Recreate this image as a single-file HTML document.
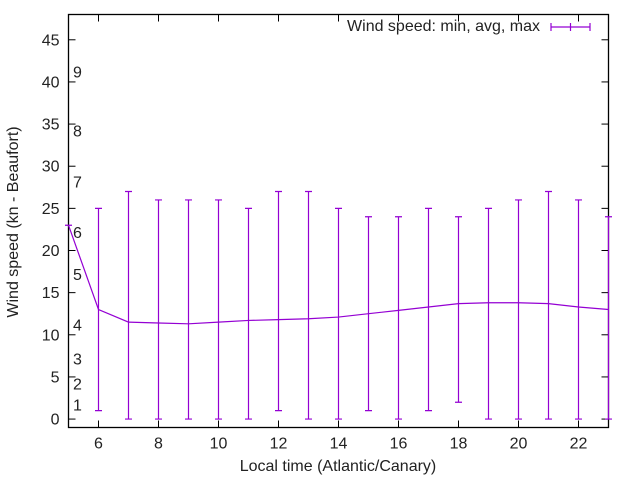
<!DOCTYPE html>
<html><head><meta charset="utf-8"><style>
body{margin:0;background:#fff}
svg{display:block;font-family:"Liberation Sans",sans-serif}
text{fill:#222}
</style></head><body>
<svg id="chart" width="640" height="480" viewBox="0 0 640 480" xmlns="http://www.w3.org/2000/svg">
<g id="grid"></g>
<rect x="68.5" y="14.5" width="540" height="413" fill="none" stroke="#000" stroke-width="1.3"/>
<text x="338" y="471" font-size="16" text-anchor="middle">Local time (Atlantic/Canary)</text>
<text x="0" y="0" font-size="16" text-anchor="middle" transform="translate(18,222) rotate(-90)">Wind speed (kn - Beaufort)</text>
<g>
<text x="540" y="31" font-size="16" text-anchor="end">Wind speed: min, avg, max</text>
<line x1="551" y1="27" x2="590" y2="27" stroke="#9400d3" stroke-width="1.2"/>
<line x1="551" y1="23" x2="551" y2="31" stroke="#9400d3" stroke-width="1.2"/>
<line x1="590" y1="23" x2="590" y2="31" stroke="#9400d3" stroke-width="1.2"/>
<line x1="570.5" y1="23" x2="570.5" y2="31" stroke="#9400d3" stroke-width="1.2"/>
</g>
<g id="marks"></g>
</svg>
<script>
const hours=[5,6,7,8,9,10,11,12,13,14,15,16,17,18,19,20,21,22,23];
const minVals=[23,1,0,0,0,0,0,1,0,0,1,0,1,2,0,0,0,0,0];
const avgVals=[23,13,11.5,11.4,11.3,11.5,11.7,11.8,11.9,12.1,12.5,12.9,13.3,13.7,13.8,13.8,13.7,13.3,13.0];
const maxVals=[23,25,27,26,26,26,25,27,27,25,24,24,25,24,25,26,27,26,24];
const yTicks=[0,5,10,15,20,25,30,35,40,45];
const xTicks=[6,8,10,12,14,16,18,20,22];
const beaufortLabels=["1","2","3","4","5","6","7","8","9"];
const beaufortBounds=[1,3.5,6.5,10.5,16.5,21.5,27.5,33.5,40.5];
const X0=5,X1=23,Y0=-1,Y1=48;
const L=68.5,R=608.5,T=14.5,B=427.5;
const sx=v=>L+(v-X0)/(X1-X0)*(R-L);
const sy=v=>B-(v-Y0)/(Y1-Y0)*(B-T);
const NS="http://www.w3.org/2000/svg";
const g=document.getElementById('grid'),m=document.getElementById('marks');
function mk(p,tag,a){const e=document.createElementNS(NS,tag);for(const k in a)e.setAttribute(k,a[k]);p.appendChild(e);return e;}
yTicks.forEach(t=>{
 const y=sy(t);
 const a=mk(g,'line',{x1:L,x2:L+7,y1:y,y2:y,stroke:'#000'});
 
 
 const b=mk(g,'line',{x1:R-7,x2:R,y1:y,y2:y,stroke:'#000'});
 
 
 const tx=mk(g,'text',{x:L-9,y:y+5.5,'font-size':16,'text-anchor':'end'});
 tx.textContent=t;
 
 
});
xTicks.forEach(t=>{
 const x=sx(t);
 const a=mk(g,'line',{x1:x,x2:x,y1:B,y2:B-7,stroke:'#000'});
 
 
 const b=mk(g,'line',{x1:x,x2:x,y1:T,y2:T+7,stroke:'#000'});
 
 
 const tx=mk(g,'text',{x:x,y:B+21,'font-size':16,'text-anchor':'middle'});
 tx.textContent=t;
 
 
});
beaufortLabels.forEach((s,i)=>{
 const tx=mk(g,'text',{x:73,y:sy(beaufortBounds[i]),'font-size':16});
 tx.textContent=s;
 
 
});
const C='#9400d3';
hours.forEach((h,i)=>{
 const x=sx(h),y1=sy(minVals[i]),y2=sy(maxVals[i]);
 const bar=mk(m,'path',{d:`M${x},${y1}V${y2}M${x-3.5},${y1}H${x+3.5}M${x-3.5},${y2}H${x+3.5}`,stroke:C,'stroke-width':1.2,fill:'none'});
 
 
});
const d=hours.map((h,i)=>(i?'L':'M')+sx(h)+','+sy(avgVals[i])).join('');
const ln=mk(m,'path',{d:d,stroke:C,'stroke-width':1.2,fill:'none'});


</script>
</body></html>
